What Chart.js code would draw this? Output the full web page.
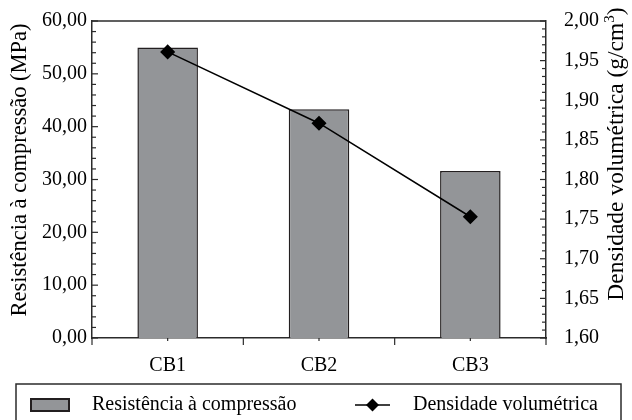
<!DOCTYPE html>
<html>
<head>
<meta charset="utf-8">
<script src="https://cdn.jsdelivr.net/npm/chart.js@4/dist/chart.umd.min.js"></script>
<style>
  html, body { margin: 0; padding: 0; background: #fff; }
  #wrap { width: 632px; height: 420px; }
</style>
</head>
<body>
<div id="wrap"><canvas id="c" width="632" height="420"></canvas></div>
<script>
const categories = ['CB1', 'CB2', 'CB3'];
const resistencia = [55.0, 43.3, 31.6];
const densidade = [1.961, 1.871, 1.753];
const leftTicks = { min: 0, max: 60, step: 10, minorStep: 2 };
const rightTicks = { min: 1.60, max: 2.00, step: 0.05, minorStep: 0.01 };
const leftTitle = 'Resistência à compressão (MPa)';
const rightTitle = ['Densidade volumétrica (g/cm', '3', ')'];

const FONT = "'Liberation Serif', 'Times New Roman', serif";
const AXIS = '#2b2b2b';
const BAR_FILL = '#939598';
const BAR_EDGE = '#231f20';

function fmt(v) { return Number(v).toFixed(2).replace('.', ','); }

const framePlugin = {
  id: 'frame',
  afterDraw(chart) {
    const ctx = chart.ctx;
    const a = chart.chartArea;
    const yl = chart.scales.y, yr = chart.scales.y2, x = chart.scales.x;
    ctx.save();
    ctx.strokeStyle = AXIS;
    ctx.lineWidth = 1.5;
    ctx.beginPath(); ctx.moveTo(a.left, a.top); ctx.lineTo(a.right, a.top); ctx.stroke();
    ctx.lineWidth = 1.2;
    for (let i = 0; i <= Math.round((leftTicks.max - leftTicks.min) / leftTicks.minorStep); i++) {
      const v = leftTicks.min + i * leftTicks.minorStep;
      const p = yl.getPixelForValue(v);
      const major = Math.abs(v / leftTicks.step - Math.round(v / leftTicks.step)) < 1e-6;
      const len = major ? 6 : 4;
      ctx.beginPath(); ctx.moveTo(a.left, p); ctx.lineTo(a.left + len, p); ctx.stroke();
    }
    const nR = Math.round((rightTicks.max - rightTicks.min) / rightTicks.minorStep);
    const perMajor = Math.round(rightTicks.step / rightTicks.minorStep);
    for (let i = 0; i <= nR; i++) {
      const v = rightTicks.min + i * rightTicks.minorStep;
      const p = yr.getPixelForValue(v);
      const len = (i % perMajor === 0) ? 6 : 4;
      ctx.beginPath(); ctx.moveTo(a.right, p); ctx.lineTo(a.right - len, p); ctx.stroke();
    }
    const n = categories.length;
    for (let i = 0; i < n; i++) {
      const p = x.getPixelForValue(i);
      ctx.beginPath(); ctx.moveTo(p, a.bottom); ctx.lineTo(p, a.bottom + 3); ctx.stroke();
    }
    for (let i = 0; i <= n; i++) {
      const p = x.getPixelForValue(i - 0.5);
      ctx.beginPath(); ctx.moveTo(p, a.bottom); ctx.lineTo(p, a.bottom + 7); ctx.stroke();
    }

    // axis titles
    ctx.fillStyle = '#000';
    ctx.textAlign = 'center';
    ctx.textBaseline = 'middle';
    ctx.font = '22.5px ' + FONT;
    ctx.save();
    ctx.translate(20, 170);
    ctx.rotate(-Math.PI / 2);
    ctx.fillText(leftTitle, 0, 0);
    ctx.restore();

    ctx.save();
    ctx.font = '23.5px ' + FONT;
    const mainW = ctx.measureText(rightTitle[0]).width;
    ctx.font = '15px ' + FONT;
    const supW = ctx.measureText(rightTitle[1]).width;
    ctx.font = '23.5px ' + FONT;
    const endW = ctx.measureText(rightTitle[2]).width;
    const total = mainW + supW + endW;
    ctx.translate(617, 154);
    ctx.rotate(-Math.PI / 2);
    ctx.textAlign = 'left';
    let tx = -total / 2;
    ctx.fillText(rightTitle[0], tx, 0); tx += mainW;
    ctx.font = '15px ' + FONT;
    ctx.fillText(rightTitle[1], tx, -7); tx += supW;
    ctx.font = '23.5px ' + FONT;
    ctx.fillText(rightTitle[2], tx, 0);
    ctx.restore();

    // legend
    const dsBar = chart.data.datasets[1], dsLine = chart.data.datasets[0];
    const ly = 405;
    ctx.lineWidth = 1.5;
    ctx.strokeStyle = AXIS;
    ctx.strokeRect(16, 384, 605, 50);
    ctx.fillStyle = dsBar.backgroundColor;
    ctx.fillRect(31, ly - 6, 38, 12);
    ctx.strokeStyle = dsBar.borderColor;
    ctx.lineWidth = 2;
    ctx.strokeRect(31, ly - 6, 38, 12);
    ctx.strokeStyle = dsLine.borderColor;
    ctx.lineWidth = 1.5;
    ctx.beginPath(); ctx.moveTo(355, ly); ctx.lineTo(390, ly); ctx.stroke();
    ctx.fillStyle = dsLine.pointBackgroundColor;
    ctx.beginPath(); ctx.moveTo(372.5, ly - 6.5); ctx.lineTo(379, ly); ctx.lineTo(372.5, ly + 6.5); ctx.lineTo(366, ly); ctx.closePath(); ctx.fill();
    ctx.fillStyle = '#000';
    ctx.font = '20px ' + FONT;
    ctx.textAlign = 'left';
    ctx.textBaseline = 'middle';
    ctx.fillText(dsBar.label, 92, ly);
    ctx.fillText(dsLine.label, 413, ly);
    ctx.restore();
  }
};

function fitY(width) {
  return function (s) {
    s.width = width;
    s.paddingTop = 0;
    s.paddingBottom = 0;
  };
}

new Chart(document.getElementById('c'), {
  type: 'bar',
  data: {
    labels: categories,
    datasets: [
      {
        type: 'line',
        label: 'Densidade volumétrica',
        data: densidade,
        yAxisID: 'y2',
        borderColor: '#000',
        backgroundColor: '#000',
        borderWidth: 1.5,
        pointStyle: 'rectRot',
        pointRadius: 6.5,
        pointHoverRadius: 6.5,
        pointBackgroundColor: '#000',
        pointBorderColor: '#000',
        tension: 0,
        order: 0
      },
      {
        type: 'bar',
        label: 'Resistência à compressão',
        data: resistencia,
        yAxisID: 'y',
        backgroundColor: BAR_FILL,
        borderColor: BAR_EDGE,
        borderWidth: 1.5,
        barPercentage: 0.4,
        categoryPercentage: 1.0,
        order: 1
      }
    ]
  },
  options: {
    responsive: false,
    animation: false,
    devicePixelRatio: 1,
    layout: { padding: { top: 21, right: 0, bottom: 38, left: 0 } },
    plugins: {
      tooltip: { enabled: false },
      legend: { display: false }
    },
    scales: {
      x: {
        grid: { display: false, drawTicks: false },
        border: { display: true, color: AXIS, width: 1.5 },
        ticks: { color: '#000', font: { family: FONT, size: 20 }, padding: 16, maxRotation: 0 },
        afterFit(s) { s.height = 44; s.paddingLeft = 0; s.paddingRight = 0; }
      },
      y: {
        position: 'left',
        min: leftTicks.min, max: leftTicks.max,
        grid: { display: false, drawTicks: false },
        border: { display: true, color: AXIS, width: 1.5 },
        ticks: { stepSize: leftTicks.step, color: '#000', font: { family: FONT, size: 20 }, padding: 5, callback: v => fmt(v) },
        afterFit: fitY(92)
      },
      y2: {
        position: 'right',
        min: rightTicks.min, max: rightTicks.max,
        grid: { display: false, drawTicks: false },
        border: { display: true, color: AXIS, width: 1.5 },
        ticks: { stepSize: rightTicks.step, color: '#000', font: { family: FONT, size: 20 }, padding: 18, callback: v => fmt(v) },
        afterFit: fitY(86)
      }
    }
  },
  plugins: [framePlugin]
});
</script>
</body>
</html>
